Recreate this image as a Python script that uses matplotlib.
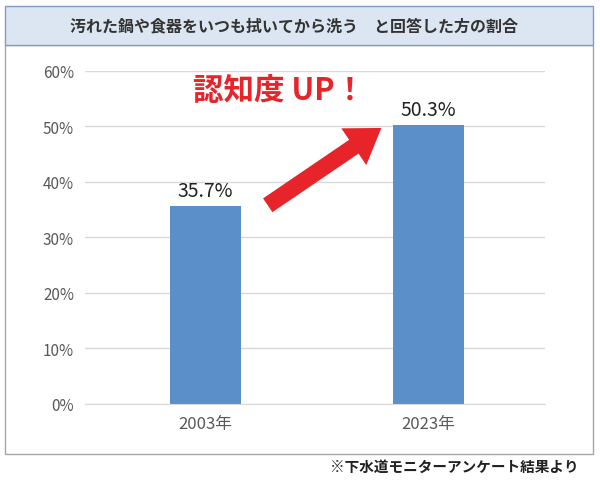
import matplotlib.pyplot as plt
from matplotlib.patches import Rectangle

plt.rcParams["font.family"] = "Noto Sans CJK JP"

years = ["2003年", "2023年"]
values = [35.7, 50.3]
value_labels = ["35.7%", "50.3%"]
yticks = [0, 10, 20, 30, 40, 50, 60]

fig = plt.figure(figsize=(6, 4.89), dpi=100)

# outer frame of chart (behind axes)
fig.patches.append(Rectangle((0.008, 0.07), 0.98, 0.835, transform=fig.transFigure,
                             facecolor="white", edgecolor="#A6A6A6", lw=1, zorder=-10))
# title box
fig.patches.append(Rectangle((0.008, 0.905), 0.98, 0.08, transform=fig.transFigure,
                             facecolor="#DCE6F2", edgecolor="#7F9DC4", lw=1, zorder=-10))
fig.text(0.49, 0.945, "汚れた鍋や食器をいつも拭いてから洗う　と回答した方の割合",
         ha="center", va="center", fontsize=11.5, fontweight="bold", color="#333333")

ax = fig.add_axes([0.142, 0.172, 0.767, 0.681])
ax.patch.set_alpha(0)
x = range(len(years))
ax.bar(x, values, width=0.32, color="#5B8FC9")
ax.set_xlim(-0.538, 1.525)
ax.set_ylim(0, 60)
ax.set_yticks(yticks)
ax.set_yticklabels([f"{v}%" for v in yticks], fontsize=11, color="#595959")
ax.set_xticks(list(x))
ax.set_xticklabels(years, fontsize=12, color="#595959")
ax.grid(axis="y", color="#D9D9D9", lw=1)
ax.set_axisbelow(True)
for s in ["top", "right", "left"]:
    ax.spines[s].set_visible(False)
ax.spines["bottom"].set_color("#D9D9D9")
ax.tick_params(length=0, pad=8)

for i, (v, lab) in enumerate(zip(values, value_labels)):
    ax.text(i, v + 0.8, lab, ha="center", va="bottom", fontsize=14, color="#222222")

ax.text(0.33, 56.5, "認知度 UP！", ha="center", va="center", fontsize=22,
        fontweight="bold", color="#E8242B")
ax.annotate("", xy=(0.8, 50), xytext=(0.27, 35.5),
            arrowprops=dict(arrowstyle="simple,head_width=1.6,head_length=1.2,tail_width=0.6",
                            color="#E8242B", mutation_scale=20, lw=0))

fig.text(0.965, 0.045, "※下水道モニターアンケート結果より", ha="right", va="center",
         fontsize=10.5, fontweight="bold", color="#222222")

fig.savefig("out.png", dpi=100)
